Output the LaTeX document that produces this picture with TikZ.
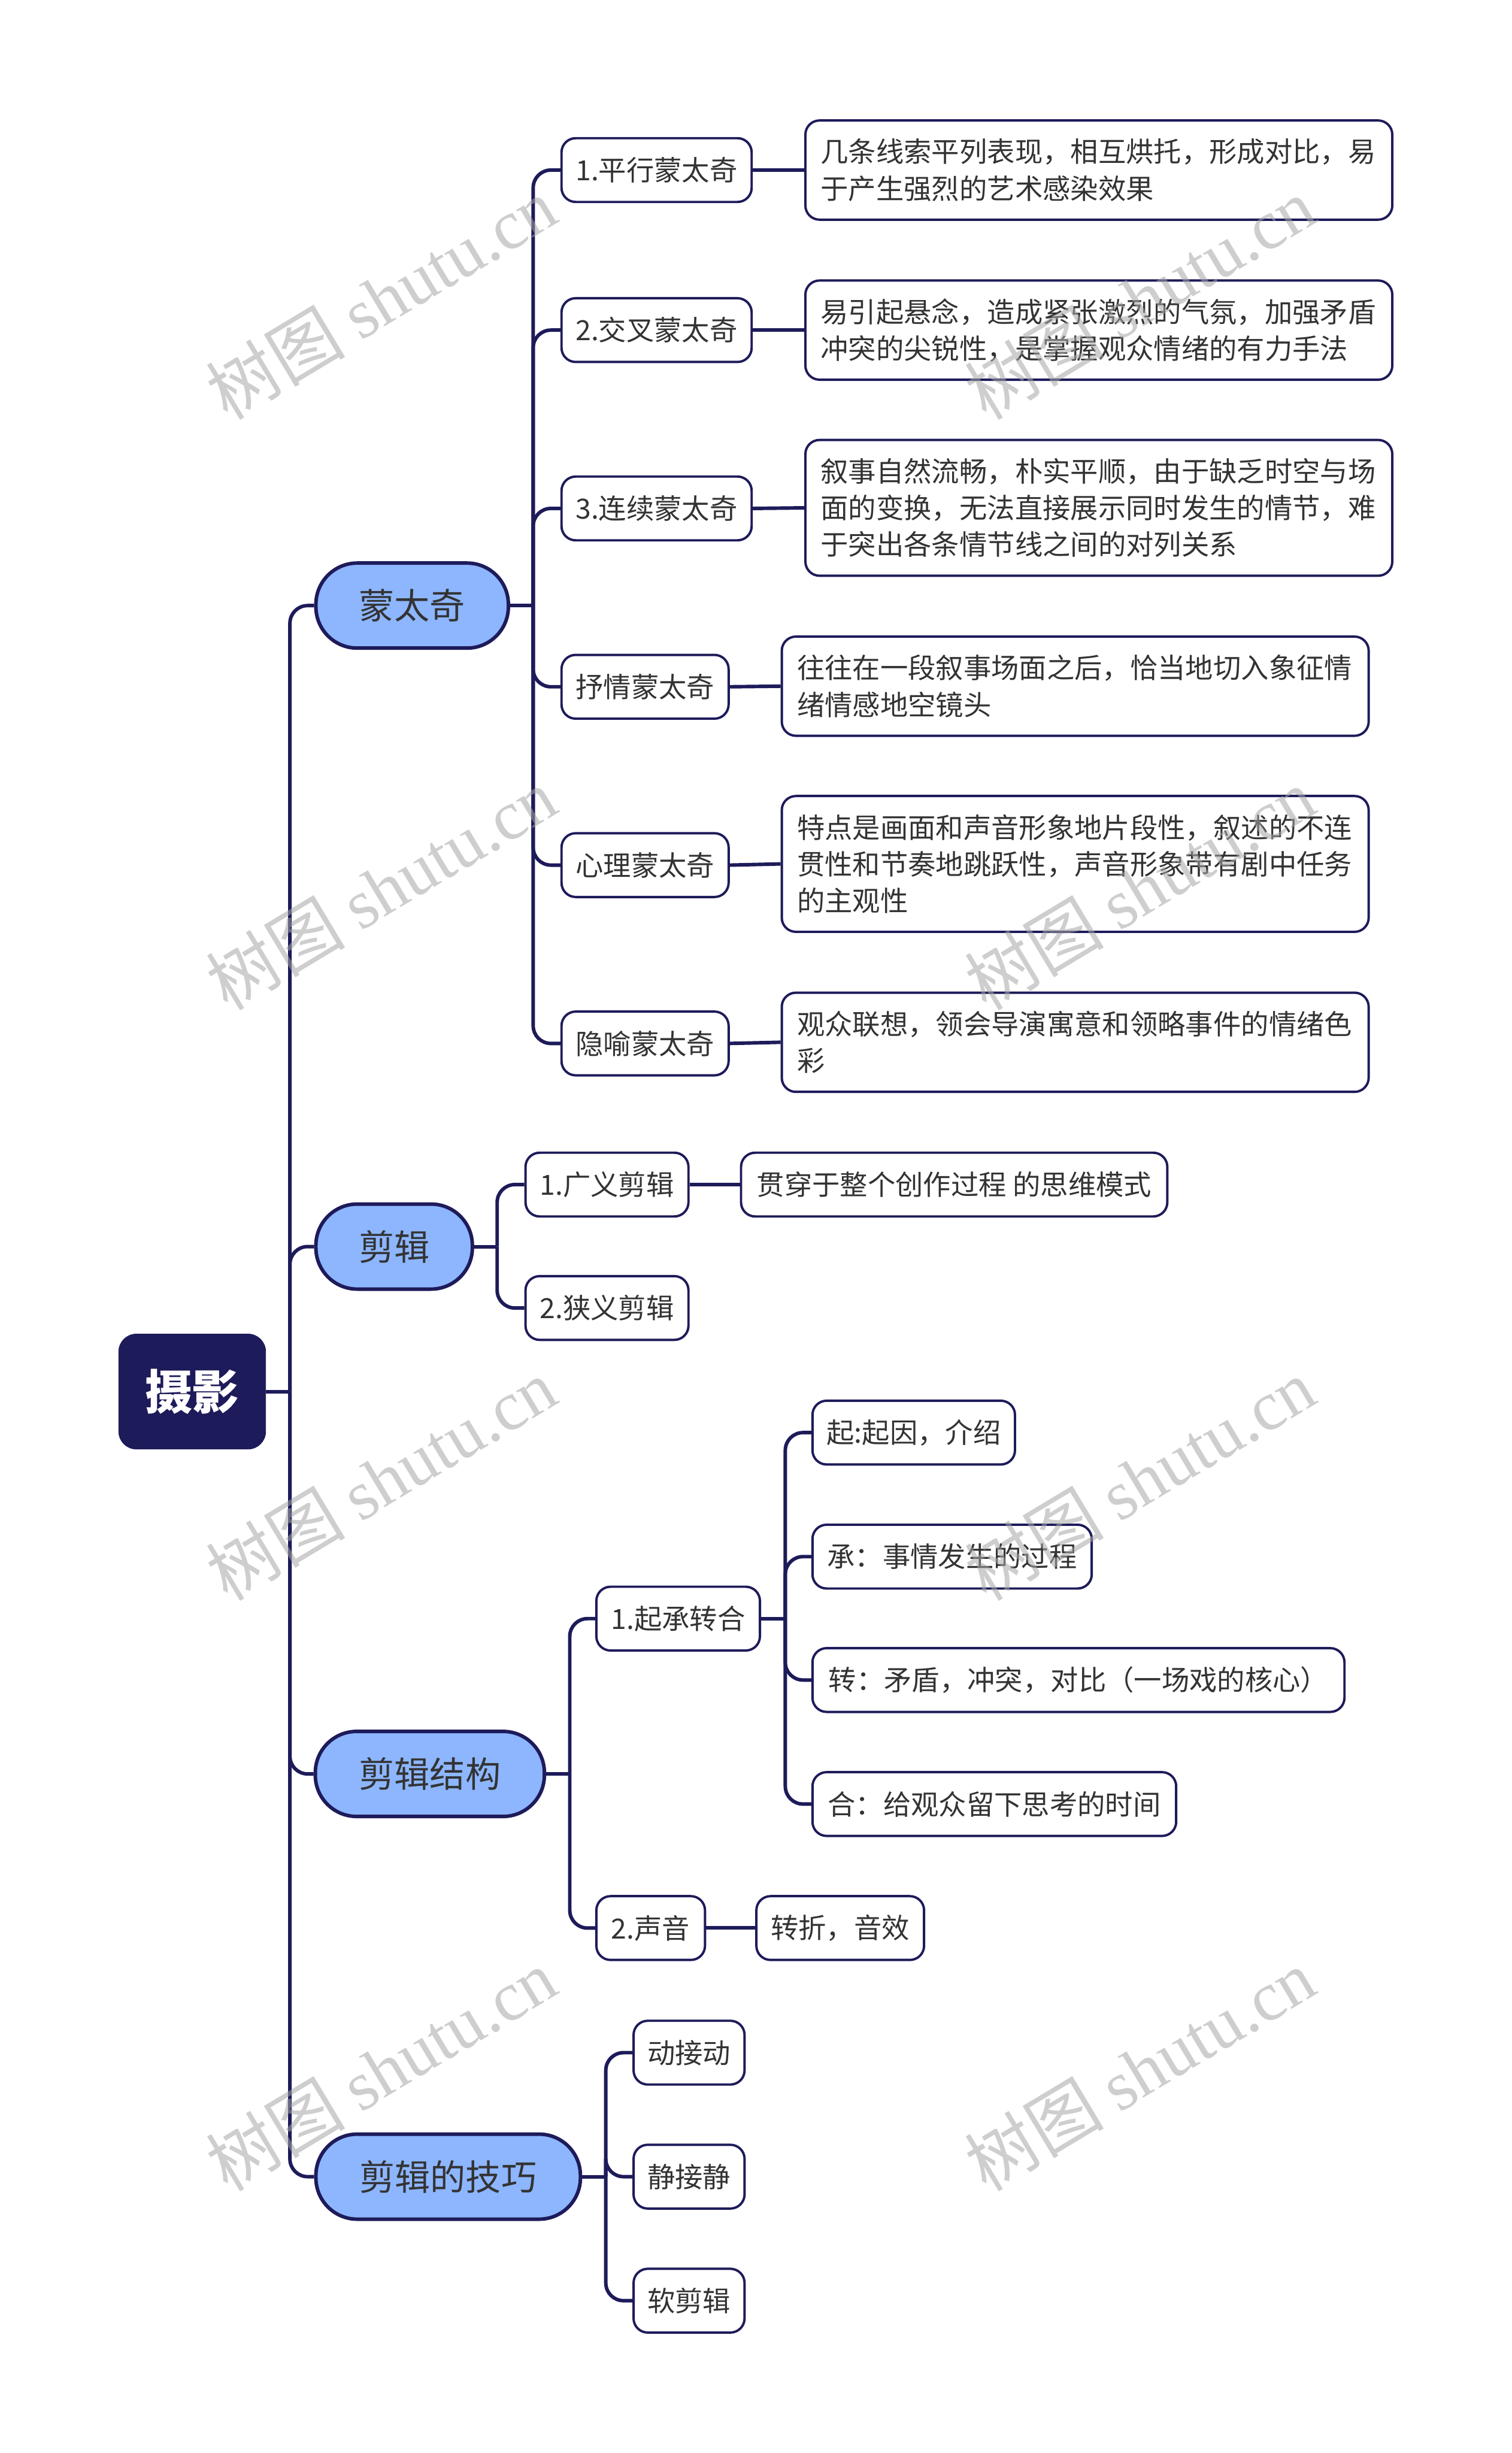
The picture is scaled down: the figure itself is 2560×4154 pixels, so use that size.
\documentclass[tikz,border=0pt]{standalone}
\usepackage{fontspec}
\setmainfont{Noto Sans CJK SC}
\newfontfamily\wmlatin{Liberation Serif}
\definecolor{nv}{HTML}{1E1B5A}
\definecolor{lb}{HTML}{8DB6FF}
\definecolor{tx}{HTML}{333333}
\begin{document}
\begin{tikzpicture}[x=0.5pt,y=-0.5pt,
  rootbox/.style={fill=nv, draw=nv, rounded corners=15pt, minimum width=124.5pt, minimum height=97.5pt, text=white, font=\fontsize{40}{40}\selectfont\bfseries, inner sep=0pt},
  lone/.style={fill=lb, draw=nv, line width=3pt, rounded corners=35pt, minimum height=72pt, text=tx, font=\fontsize{30}{30}\selectfont, inner sep=0pt},
  ltwo/.style={fill=white, draw=nv, line width=2pt, rounded corners=12pt, minimum height=54pt, text=tx, font=\fontsize{23.5}{31}\selectfont, inner sep=0pt, anchor=west},
  descbox/.style={fill=white, draw=nv, line width=2pt, rounded corners=12pt, text=tx, font=\fontsize{23.5}{31}\selectfont, inner xsep=13pt, inner ysep=0pt, text width=471pt, align=left, anchor=west},
  conn/.style={draw=nv, line width=3pt},
  elbow/.style={draw=nv, line width=3pt, rounded corners=15pt},
  wm/.style={text=black!35, opacity=0.55, rotate=31, font=\fontsize{59}{59}\selectfont, inner sep=0pt}
]
\useasboundingbox (0,0) rectangle (2560,4154);
\fill[white] (0,0) rectangle (2560,4154);

% junctions
\coordinate (j0) at (491,2356.5);
\coordinate (jm1) at (903,1025.5);
\coordinate (jm2) at (842,2111);
\coordinate (jm3) at (965,3004);
\coordinate (jc1) at (1330,2741);
\coordinate (jm4) at (1026,3686);

% root and main topics
\node[rootbox] (root) at (325.5,2356.5) {摄影};
\node[lone, minimum width=163pt] (m1) at (698,1025.5) {蒙太奇};
\node[lone, minimum width=132.5pt] (m2) at (667.5,2111) {剪辑};
\node[lone, minimum width=194pt] (m3) at (728,3004) {剪辑结构};
\node[lone, minimum width=224pt] (m4) at (759,3686) {剪辑的技巧};

% montage
\node[ltwo, minimum width=161pt] (a1) at (949,288) {1.平行蒙太奇};
\node[ltwo, minimum width=161pt] (a2) at (949,559) {2.交叉蒙太奇};
\node[ltwo, minimum width=161pt] (a3) at (949,861) {3.连续蒙太奇};
\node[ltwo, minimum width=141.5pt] (a4) at (949,1163) {抒情蒙太奇};
\node[ltwo, minimum width=141.5pt] (a5) at (949,1465) {心理蒙太奇};
\node[ltwo, minimum width=141.5pt] (a6) at (949,1767) {隐喻蒙太奇};

\node[descbox, minimum height=84pt] (d1) at (1362,288) {几条线索平列表现，相互烘托，形成对比，易\\于产生强烈的艺术感染效果};
\node[descbox, minimum height=84pt] (d2) at (1362,559) {易引起悬念，造成紧张激烈的气氛，加强矛盾\\冲突的尖锐性，是掌握观众情绪的有力手法};
\node[descbox, minimum height=115pt] (d3) at (1362,860) {叙事自然流畅，朴实平顺，由于缺乏时空与场\\面的变换，无法直接展示同时发生的情节，难\\于突出各条情节线之间的对列关系};
\node[descbox, minimum height=84pt] (d4) at (1322,1162) {往往在一段叙事场面之后，恰当地切入象征情\\绪情感地空镜头};
\node[descbox, minimum height=115pt] (d5) at (1322,1463) {特点是画面和声音形象地片段性，叙述的不连\\贯性和节奏地跳跃性，声音形象带有剧中任务\\的主观性};
\node[descbox, minimum height=84pt] (d6) at (1322,1765) {观众联想，领会导演寓意和领略事件的情绪色\\彩};

% editing
\node[ltwo, minimum width=138pt] (b1) at (888,2006) {1.广义剪辑};
\node[ltwo, minimum width=138pt] (b2) at (888,2215) {2.狭义剪辑};
\node[ltwo, minimum width=361pt] (b1d) at (1253,2006) {贯穿于整个创作过程 的思维模式};

% structure
\node[ltwo, minimum width=138.5pt] (c1) at (1008,2741) {1.起承转合};
\node[ltwo, minimum width=92pt] (c2) at (1008,3265) {2.声音};
\node[ltwo, minimum width=142pt] (c2d) at (1279,3265) {转折，音效};
\node[ltwo, minimum width=171.5pt] (e1) at (1374,2426) {起:起因，介绍};
\node[ltwo, minimum width=236.5pt] (e2) at (1374,2636) {承：事情发生的过程};
\node[ltwo, minimum width=450.5pt] (e3) at (1374,2845) {转：矛盾，冲突，对比（一场戏的核心）};
\node[ltwo, minimum width=308pt] (e4) at (1374,3055) {合：给观众留下思考的时间};

% techniques
\node[ltwo, minimum width=94pt] (f1) at (1071,3476) {动接动};
\node[ltwo, minimum width=94pt] (f2) at (1071,3686) {静接静};
\node[ltwo, minimum width=94pt] (f3) at (1071,3896) {软剪辑};

% connectors
\draw[conn] (root.east) -- (j0);
\foreach \n in {m1,m2,m3,m4} \draw[elbow] (j0) |- (\n.west);
\draw[conn] (m1.east) -- (jm1);
\foreach \n in {a1,a2,a3,a4,a5,a6} \draw[elbow] (jm1) |- (\n.west);
\draw[conn] (a1.east) -- (d1.west);
\draw[conn] (a2.east) -- (d2.west);
\draw[conn] (a3.east) -- (d3.west);
\draw[conn] (a4.east) -- (d4.west);
\draw[conn] (a5.east) -- (d5.west);
\draw[conn] (a6.east) -- (d6.west);
\draw[conn] (m2.east) -- (jm2);
\foreach \n in {b1,b2} \draw[elbow] (jm2) |- (\n.west);
\draw[conn] (b1.east) -- (b1d.west);
\draw[conn] (m3.east) -- (jm3);
\foreach \n in {c1,c2} \draw[elbow] (jm3) |- (\n.west);
\draw[conn] (c2.east) -- (c2d.west);
\draw[conn] (c1.east) -- (jc1);
\foreach \n in {e1,e2,e3,e4} \draw[elbow] (jc1) |- (\n.west);
\draw[conn] (m4.east) -- (jm4);
\foreach \n in {f1,f2,f3} \draw[elbow] (jm4) |- (\n.west);

% watermarks
\foreach \wx in {645,1930} {
  \foreach \wy in {505,1505,2505,3505} {
    \node[wm] at (\wx,\wy) {树图 {\wmlatin shutu.cn}};
  }
}
\end{tikzpicture}
\end{document}
